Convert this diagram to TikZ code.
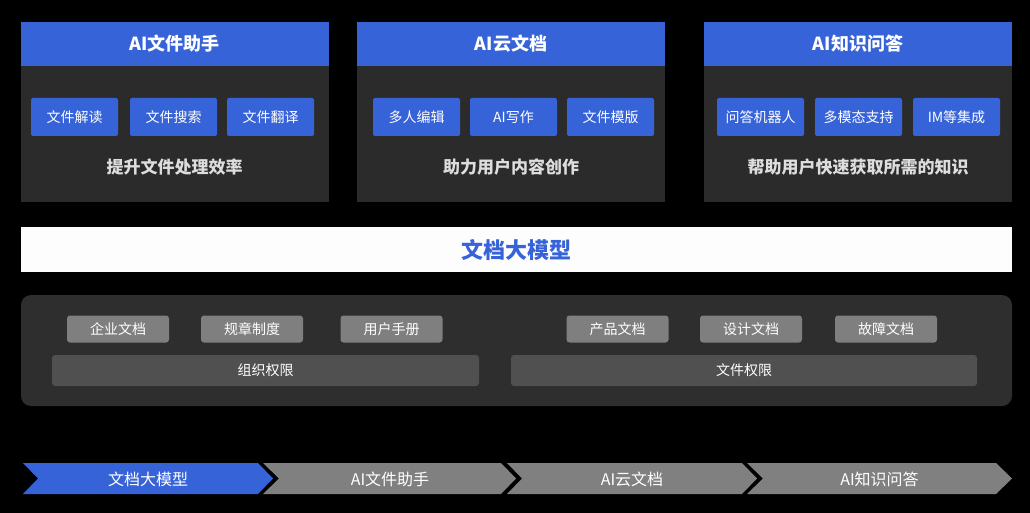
\documentclass[tikz,border=0pt]{standalone}
\usepackage{fontspec}
\setmainfont{Noto Sans CJK SC}
\definecolor{bblue}{RGB}{55,99,216}
\definecolor{boxgray}{RGB}{43,43,43}
\definecolor{panelgray}{RGB}{46,46,46}
\definecolor{pillgray}{RGB}{127,127,127}
\definecolor{bargray}{RGB}{80,80,80}
\definecolor{chevgray}{RGB}{128,128,128}
\definecolor{subtxt}{RGB}{221,221,221}
\definecolor{banner}{RGB}{253,253,253}
\tikzset{
  card/.style={fill=boxgray, draw=none, inner sep=0pt, minimum width=308pt, minimum height=180pt},
  cardhead/.style={fill=bblue, draw=none, inner sep=0pt, minimum width=308pt, minimum height=44pt,
    text=white, font=\bfseries\fontsize{18}{20}\selectfont},
  btn/.style={fill=bblue, draw=none, rounded corners=2pt, inner sep=0pt, minimum width=87pt, minimum height=38pt,
    text=white, font=\fontsize{14}{16}\selectfont},
  subtitle/.style={text=subtxt, font=\bfseries\fontsize{17}{19}\selectfont, inner sep=0pt},
  pill/.style={fill=pillgray, draw=none, rounded corners=3pt, inner sep=0pt, minimum width=102pt, minimum height=27pt,
    text=white, font=\fontsize{14}{16}\selectfont},
  permbar/.style={fill=bargray, draw=none, rounded corners=3pt, inner sep=0pt, minimum height=31pt,
    text=white, font=\fontsize{14}{16}\selectfont},
  chevtxt/.style={text=white, inner sep=0pt, font=\fontsize{16}{18}\selectfont},
}
\begin{document}
\begin{tikzpicture}[x=1pt,y=-1pt]
\fill[black] (0,0) rectangle (1030,513);
\useasboundingbox (0,0) rectangle (1030,513);

% ---- top cards ----
\node[card] (c1) at (174.5,112) {};
\node[cardhead] (h1) at (174.5,44) {AI文件助手};
\node[btn] (b11) at (74.5,117) {文件解读};
\node[btn] (b12) at (173.5,117) {文件搜索};
\node[btn] (b13) at (270.5,117) {文件翻译};
\node[subtitle] (s1) at (174.5,167) {提升文件处理效率};

\node[card] (c2) at (511,112) {};
\node[cardhead] (h2) at (511,44) {AI云文档};
\node[btn] (b21) at (416.5,117) {多人编辑};
\node[btn] (b22) at (513.5,117) {AI写作};
\node[btn] (b23) at (610.5,117) {文件模版};
\node[subtitle] (s2) at (511,167) {助力用户内容创作};

\node[card] (c3) at (858,112) {};
\node[cardhead] (h3) at (858,44) {AI知识问答};
\node[btn] (b31) at (760.5,117) {问答机器人};
\node[btn] (b32) at (858.5,117) {多模态支持};
\node[btn] (b33) at (956.5,117) {IM等集成};
\node[subtitle] (s3) at (858,167) {帮助用户快速获取所需的知识};

% ---- banner ----
\node[fill=banner, draw=none, inner sep=0pt, minimum width=991pt, minimum height=45pt,
  text=bblue, font=\bfseries\fontsize{22}{24}\selectfont] (ban) at (516.5,249.5) {文档大模型};

% ---- knowledge panel ----
\node[fill=panelgray, draw=none, rounded corners=10pt, inner sep=0pt, minimum width=991pt, minimum height=111pt] (panel) at (516.5,350.5) {};
\node[pill] (p1) at (118,329) {企业文档};
\node[pill] (p2) at (252,329) {规章制度};
\node[pill] (p3) at (391.5,329) {用户手册};
\node[pill] (p4) at (617.5,329) {产品文档};
\node[pill] (p5) at (751,329) {设计文档};
\node[pill] (p6) at (886,329) {故障文档};
\node[permbar, minimum width=427pt] (r1) at (265.5,370.5) {组织权限};
\node[permbar, minimum width=466pt] (r2) at (744,370.5) {文件权限};

% ---- bottom chevrons ----
\fill[bblue] (23,463) -- (258,463) -- (273,478.5) -- (258,494) -- (23,494) -- (38,478.5) -- cycle;
\fill[chevgray] (263,463) -- (501,463) -- (516,478.5) -- (501,494) -- (263,494) -- (279,478.5) -- cycle;
\fill[chevgray] (507,463) -- (742,463) -- (757,478.5) -- (742,494) -- (507,494) -- (522,478.5) -- cycle;
\fill[chevgray] (747,463) -- (996,463) -- (1012,478.5) -- (996,494) -- (747,494) -- (763,478.5) -- cycle;
\node[chevtxt] (t1) at (148,479) {文档大模型};
\node[chevtxt] (t2) at (390,479) {AI文件助手};
\node[chevtxt] (t3) at (632,479) {AI云文档};
\node[chevtxt] (t4) at (879.5,479) {AI知识问答};
\end{tikzpicture}
\end{document}
